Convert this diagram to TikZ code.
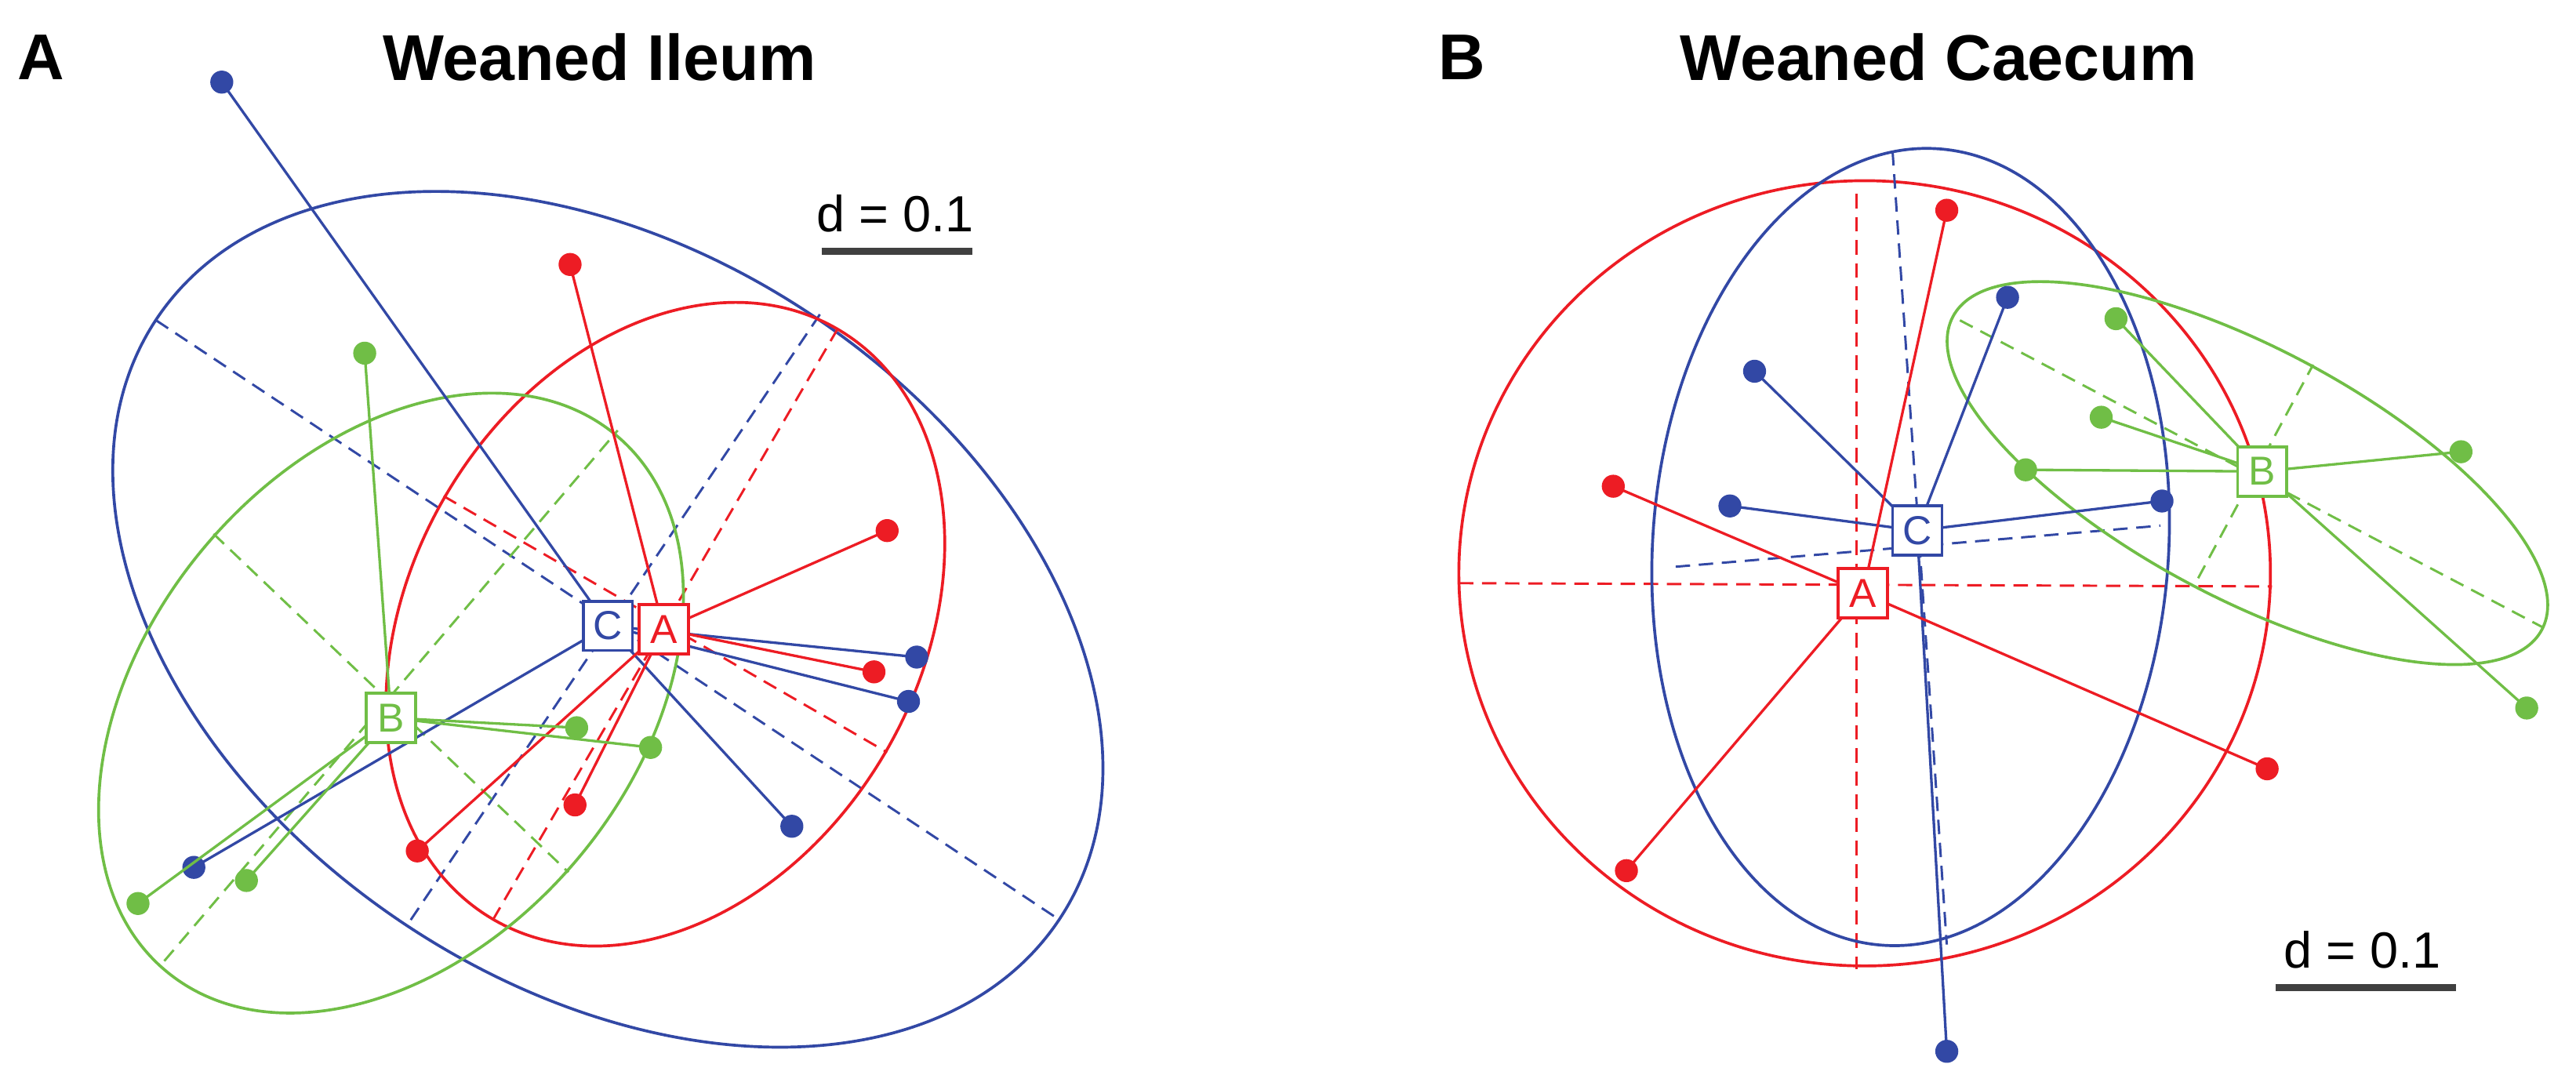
\documentclass[tikz,border=0pt]{standalone}
\usepackage{fontspec}
\setmainfont{Liberation Sans}
\begin{document}
\definecolor{cr}{RGB}{237,28,36}
\definecolor{cb}{RGB}{50,72,165}
\definecolor{cg}{RGB}{112,190,70}
\begin{tikzpicture}[x=0.01cm,y=-0.01cm,
  pt/.style={circle,fill=#1,inner sep=0pt,minimum size=0.14cm},
  cen/.style={draw=#1,text=#1,fill=white,line width=0.5pt,inner sep=0pt,minimum size=0.3cm,font=\fontsize{7}{8}\selectfont},
  ln/.style={draw=#1,line width=0.45pt},
  dsh/.style={draw=#1,line width=0.4pt,dash pattern=on 2.5pt off 1.5pt},
  ell/.style={draw=#1,line width=0.5pt},
  ttl/.style={font=\bfseries\fontsize{11.2}{13}\selectfont},
  bar/.style={draw=black!75,line width=1.2pt},
  lbl/.style={font=\fontsize{8.8}{10}\selectfont}]
\useasboundingbox (0,0) rectangle (1568,661);
% ---------- Panel A ----------
\node[ttl] (tA) at (25,35) {A};
\node[ttl] (tIl) at (365,35) {Weaned Ileum};
\node[lbl] (dA) at (545,130) {d = 0.1};
\coordinate (bA1) at (500,153); \coordinate (bA2) at (592,153);
\draw[bar] (bA1) -- (bA2);
% ellipses
\draw[ell=cb] (370,377) ellipse[x radius=330,y radius=223,rotate=-33.6];
\draw[dsh=cb] (95,195) -- (645,560); \draw[dsh=cb] (250,560) -- (500,190);
\draw[ell=cr] (405,380) ellipse[x radius=208,y radius=155,rotate=59.7];
\draw[dsh=cr] (300,560) -- (510,200); \draw[dsh=cr] (270,302) -- (540,458);
\draw[ell=cg] (238,428) ellipse[x radius=213,y radius=148,rotate=49.8];
\draw[dsh=cg] (100,585) -- (376,262); \draw[dsh=cg] (130,325) -- (346,531);
% points
\foreach \n/\p in {b1/{(135,50)},b2/{(558,400)},b3/{(553,427)},b4/{(482,503)},b5/{(118,528)}}
  \node[pt=cb] (A\n) at \p {};
\foreach \n/\p in {r1/{(347,161)},r2/{(540,323)},r3/{(532,409)},r4/{(350,490)},r5/{(254,518)}}
  \node[pt=cr] (A\n) at \p {};
\foreach \n/\p in {g1/{(222,215)},g2/{(351,443)},g3/{(396,455)},g4/{(84,550)},g5/{(150,536)}}
  \node[pt=cg] (A\n) at \p {};
\coordinate (AcC) at (370,381); \coordinate (AcA) at (404,383); \coordinate (AcB) at (238,437);
\foreach \n in {b1,b2,b3,b4,b5} \draw[ln=cb] (A\n.center) -- (AcC);
\foreach \n in {r1,r2,r3,r4,r5} \draw[ln=cr] (A\n.center) -- (AcA);
\foreach \n in {g1,g2,g3,g4,g5} \draw[ln=cg] (A\n.center) -- (AcB);
\node[cen=cb] (AC) at (AcC) {C};
\node[cen=cr] (AA) at (AcA) {A};
\node[cen=cg] (AB) at (AcB) {B};
% ---------- Panel B ----------
\node[ttl] (tB) at (890,35) {B};
\node[ttl] (tCa) at (1180,35) {Weaned Caecum};
\node[lbl] (dB) at (1438,578) {d = 0.1};
\coordinate (bB1) at (1385,601); \coordinate (bB2) at (1495,601);
\draw[bar] (bB1) -- (bB2);
\draw[ell=cr] (1135,349) ellipse[x radius=247,y radius=239];
\draw[dsh=cr] (888,355) -- (1383,357); \draw[dsh=cr] (1130,118) -- (1130,590);
\draw[ell=cb] (1163,333) ellipse[x radius=157,y radius=243,rotate=-4];
\draw[dsh=cb] (1152,92) -- (1185,575); \draw[dsh=cb] (1020,345) -- (1315,320);
\draw[ell=cg] (1368,288) ellipse[x radius=203,y radius=76,rotate=-28];
\draw[dsh=cg] (1193,195) -- (1548,382); \draw[dsh=cg] (1338,352) -- (1408,222);
\foreach \n/\p in {b1/{(1222,181)},b2/{(1068,226)},b3/{(1053,308)},b4/{(1316,305)},b5/{(1185,640)}}
  \node[pt=cb] (B\n) at \p {};
\foreach \n/\p in {r1/{(1185,128)},r2/{(982,296)},r3/{(1380,468)},r4/{(990,530)}}
  \node[pt=cr] (B\n) at \p {};
\foreach \n/\p in {g1/{(1288,194)},g2/{(1279,254)},g3/{(1233,286)},g4/{(1498,275)},g5/{(1538,431)}}
  \node[pt=cg] (B\n) at \p {};
\coordinate (BcC) at (1167,323); \coordinate (BcA) at (1134,361); \coordinate (BcB) at (1377,287);
\foreach \n in {b1,b2,b3,b4,b5} \draw[ln=cb] (B\n.center) -- (BcC);
\foreach \n in {r1,r2,r3,r4} \draw[ln=cr] (B\n.center) -- (BcA);
\foreach \n in {g1,g2,g3,g4,g5} \draw[ln=cg] (B\n.center) -- (BcB);
\node[cen=cr] (BA) at (BcA) {A};
\node[cen=cb] (BC) at (BcC) {C};
\node[cen=cg] (BB) at (BcB) {B};
\end{tikzpicture}
\end{document}
